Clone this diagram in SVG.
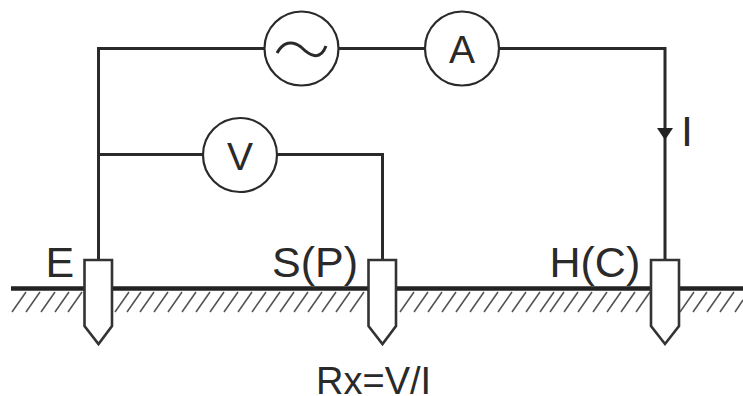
<svg xmlns="http://www.w3.org/2000/svg" width="743" height="396" viewBox="0 0 743 396">
<defs>
<style>
.w{fill:none;stroke:#2a2a2a;stroke-width:3}
.c{fill:#fff;stroke:#2a2a2a;stroke-width:2.2}
.p{fill:#fff;stroke:#333;stroke-width:2.6}
.h{fill:none;stroke:#555;stroke-width:1.6}
.t{font-family:"Liberation Sans",Arial,sans-serif;font-size:43px;fill:#2a2a2a}
.m{font-size:39px;text-anchor:middle}
</style>
</defs>
<rect width="743" height="396" fill="#fff"/>
<g id="ground">
<path d="M11 288.500H743" fill="none" stroke="#222" stroke-width="4.500"/>
<path class="h" d="M12 312L26 292M26 312L40 292M41 312L55 292M55 312L69 292M68 312L82 292M115 312L129 292M127 312L141 292M140 312L154 292M154 312L168 292M168 312L182 292M182 312L196 292M196 312L210 292M210 312L224 292M224 312L238 292M238 312L252 292M252 312L266 292M266 312L280 292M280 312L294 292M294 312L308 292M308 312L322 292M322 312L336 292M336 312L350 292M350 312L364 292M400 312L414 292M414 312L428 292M428 312L442 292M442 312L456 292M456 312L470 292M470 312L484 292M484 312L498 292M498 312L512 292M512 312L526 292M526 312L540 292M540 312L554 292M550 312L564 292M564 312L578 292M578 312L592 292M593 312L607 292M607 312L621 292M621 312L635 292M636 312L650 292M680 312L694 292M693 312L707 292M707 312L721 292M720 312L734 292M735 312L743 300"/>
</g>
<g id="connectors">
<path class="w" d="M98.500 260V48.500H665V260"/>
<path class="w" d="M98.500 154.500H382.500V260"/>
<path d="M657 128H673L665 140Z" fill="#222"/>
</g>
<g id="source"><circle class="c" cx="301.500" cy="48.500" r="37"/><path d="M277 53C283 42 292 40 301 47C309 55 320 62 326 46" fill="none" stroke="#2a2a2a" stroke-width="3"/></g>
<g id="ammeter"><circle class="c" cx="462" cy="48.500" r="37"/><text class="t m" x="462" y="63">A</text></g>
<g id="voltmeter"><circle class="c" cx="240" cy="155" r="37"/><text class="t m" x="240" y="170">V</text></g>
<g id="probe-e"><path class="p" d="M84.500 260H112V326L98.500 344L84.500 326Z"/><text class="t" x="45.500" y="277">E</text></g>
<g id="probe-s"><path class="p" d="M368.500 260H396V326L382.500 344L368.500 326Z"/><text class="t" x="272" y="277">S(P)</text></g>
<g id="probe-h"><path class="p" d="M651 260H679V326L665 344L651 326Z"/><text class="t" x="549.500" y="277">H(C)</text></g>
<text class="t" id="current" x="681" y="146">I</text>
<text class="t" id="formula" style="font-size:38px" x="316" y="394">Rx=V/I</text>
</svg>
